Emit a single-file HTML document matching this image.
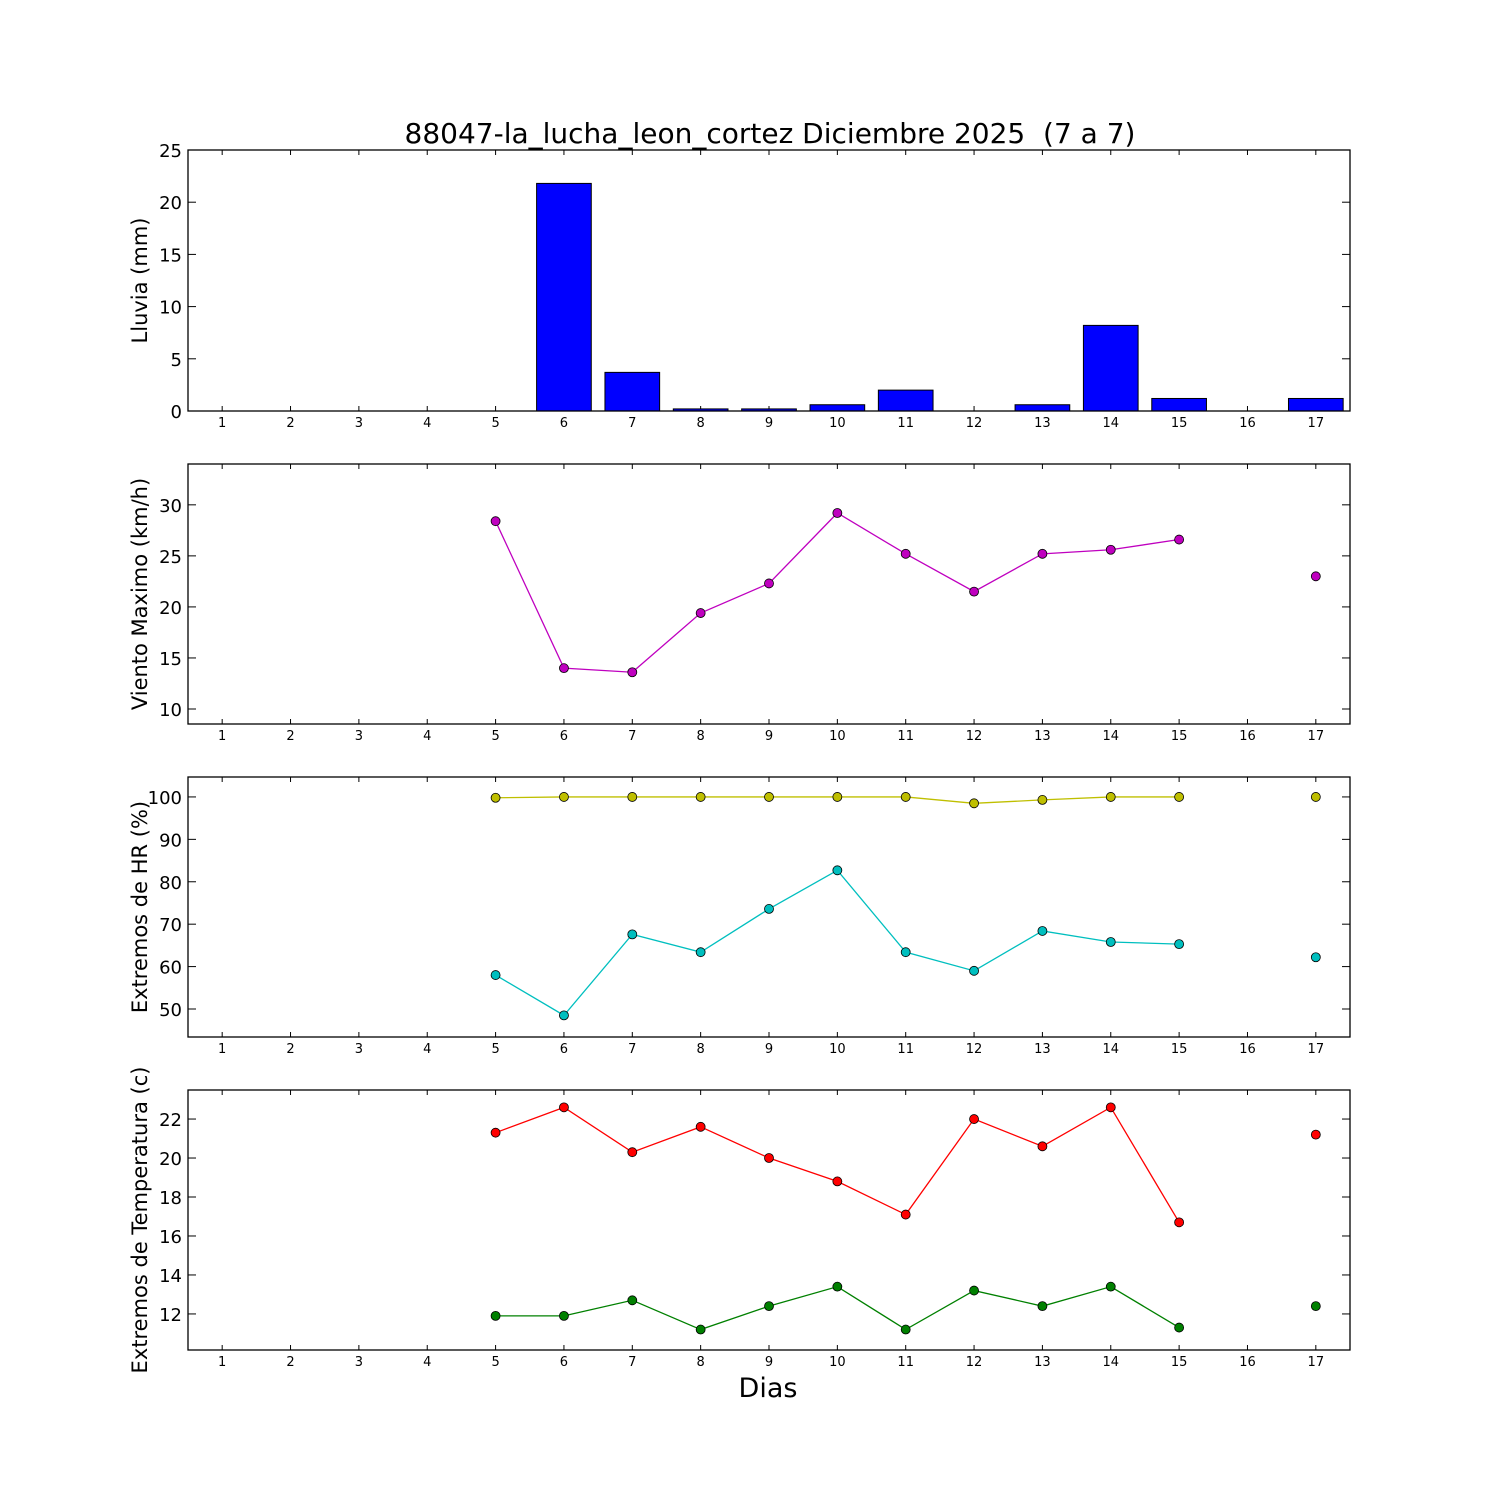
<!DOCTYPE html>
<html><head><meta charset="utf-8">
<style>
html,body{margin:0;padding:0;background:#fff;}
svg{display:block;font-family:"DejaVu Sans","Liberation Sans",sans-serif;}
</style></head>
<body>
<svg id="chart" width="1500" height="1500" viewBox="0 0 1500 1500" xmlns="http://www.w3.org/2000/svg">
<rect width="1500" height="1500" fill="#fff"/>
<text x="770" y="143" font-size="28" text-anchor="middle">88047-la_lucha_leon_cortez Diciembre 2025 &#160;(7 a 7)</text>
<text x="768" y="1397" font-size="27" text-anchor="middle">Dias</text>
</svg>
<script>
const days = [1,2,3,4,5,6,7,8,9,10,11,12,13,14,15,16,17];
const rain = [null,null,null,null,0,21.8,3.7,0.2,0.2,0.6,2.0,0,0.6,8.2,1.2,0,1.2];
const windMax = [null,null,null,null,28.4,14.0,13.6,19.4,22.3,29.2,25.2,21.5,25.2,25.6,26.6,null,23.0];
const hrMax = [null,null,null,null,99.8,100,100,100,100,100,100,98.5,99.3,100,100,null,100];
const hrMin = [null,null,null,null,58,48.5,67.6,63.4,73.6,82.7,63.4,59,68.4,65.8,65.3,null,62.2];
const tMax = [null,null,null,null,21.3,22.6,20.3,21.6,20.0,18.8,17.1,22.0,20.6,22.6,16.7,null,21.2];
const tMin = [null,null,null,null,11.9,11.9,12.7,11.2,12.4,13.4,11.2,13.2,12.4,13.4,11.3,null,12.4];
const rainTicks = [0,5,10,15,20,25];
const windTicks = [10,15,20,25,30];
const hrTicks = [50,60,70,80,90,100];
const tTicks = [12,14,16,18,20,22];

const svg = document.getElementById('chart');
const NS = 'http://www.w3.org/2000/svg';
function mk(tag, attrs, parent){const e=document.createElementNS(NS,tag);for(const k in attrs)e.setAttribute(k,attrs[k]);(parent||svg).appendChild(e);return e;}
const L=188,R=1350;
function xs(d){return L+(d-0.5)/17*(R-L);}

function panel(name, top, bot, ymin, ymax, ticks, label){
  const g=mk('g',{});
  
  
  const ys=v=>bot-(v-ymin)/(ymax-ymin)*(bot-top);
  days.forEach(d=>{
    const x=xs(d);
    mk('line',{x1:x,x2:x,y1:bot,y2:bot-5,stroke:'#000'},g);
    mk('line',{x1:x,x2:x,y1:top,y2:top+5,stroke:'#000'},g);
    const t=mk('text',{x:x,y:bot+16,'font-size':13,'text-anchor':'middle'},g);
    
    
    t.textContent=d;
  });
  ticks.forEach(v=>{
    const y=ys(v);
    mk('line',{x1:L,x2:L+8,y1:y,y2:y,stroke:'#000'},g);
    mk('line',{x1:R,x2:R-8,y1:y,y2:y,stroke:'#000'},g);
    const t=mk('text',{x:L-6,y:y+7,'font-size':18,'text-anchor':'end'},g);
    
    
    t.textContent=v;
  });
  const cy=(top+bot)/2;
  const lb=mk('text',{x:0,y:0,'font-size':21,'text-anchor':'middle',transform:`translate(147,${cy}) rotate(-90)`},g);
  
  
  lb.textContent=label;
  return {g,ys,top,bot};
}
function frame(p){mk('rect',{x:L,y:p.top,width:R-L,height:p.bot-p.top,fill:'none',stroke:'#000','stroke-width':1.3},p.g);}
function series(p, vals, color, name){
  let seg=[];const segs=[];
  vals.forEach((v,i)=>{ if(v===null){if(seg.length)segs.push(seg);seg=[];} else seg.push([xs(days[i]),p.ys(v)]); });
  if(seg.length)segs.push(seg);
  segs.forEach(s=>{ if(s.length>1){const pl=mk('polyline',{points:s.map(q=>q.join(',')).join(' '),fill:'none',stroke:color,'stroke-width':1.3},p.g);
    
    }});
  vals.forEach((v,i)=>{ if(v===null)return;
    const c=mk('circle',{cx:xs(days[i]),cy:p.ys(v),r:4.5,fill:color,stroke:'#000','stroke-width':0.8},p.g);
    
    });
}

const p1=panel('rain',150,411,0,25,rainTicks,'Lluvia (mm)');
rain.forEach((v,i)=>{ if(v===null)return;
  const x0=xs(days[i]-0.4),x1=xs(days[i]+0.4),y=p1.ys(v);
  const b=mk('rect',{x:x0,y:y,width:x1-x0,height:p1.bot-y,fill:'#0000ff',stroke:'#000','stroke-width':1},p1.g);
  
  
});
frame(p1);

const p2=panel('wind',464,724,8.53,34.0,windTicks,'Viento Maximo (km/h)');
series(p2,windMax,'#bf00bf','wind-max');frame(p2);

const p3=panel('humidity',777,1037,43.4,104.7,hrTicks,'Extremos de HR (%)');
series(p3,hrMax,'#bfbf00','hr-max');series(p3,hrMin,'#00bfbf','hr-min');frame(p3);

const p4=panel('temperature',1090,1350,10.15,23.49,tTicks,'Extremos de Temperatura (c)');
series(p4,tMax,'#ff0000','temp-max');series(p4,tMin,'#008000','temp-min');frame(p4);
</script>
</body></html>
